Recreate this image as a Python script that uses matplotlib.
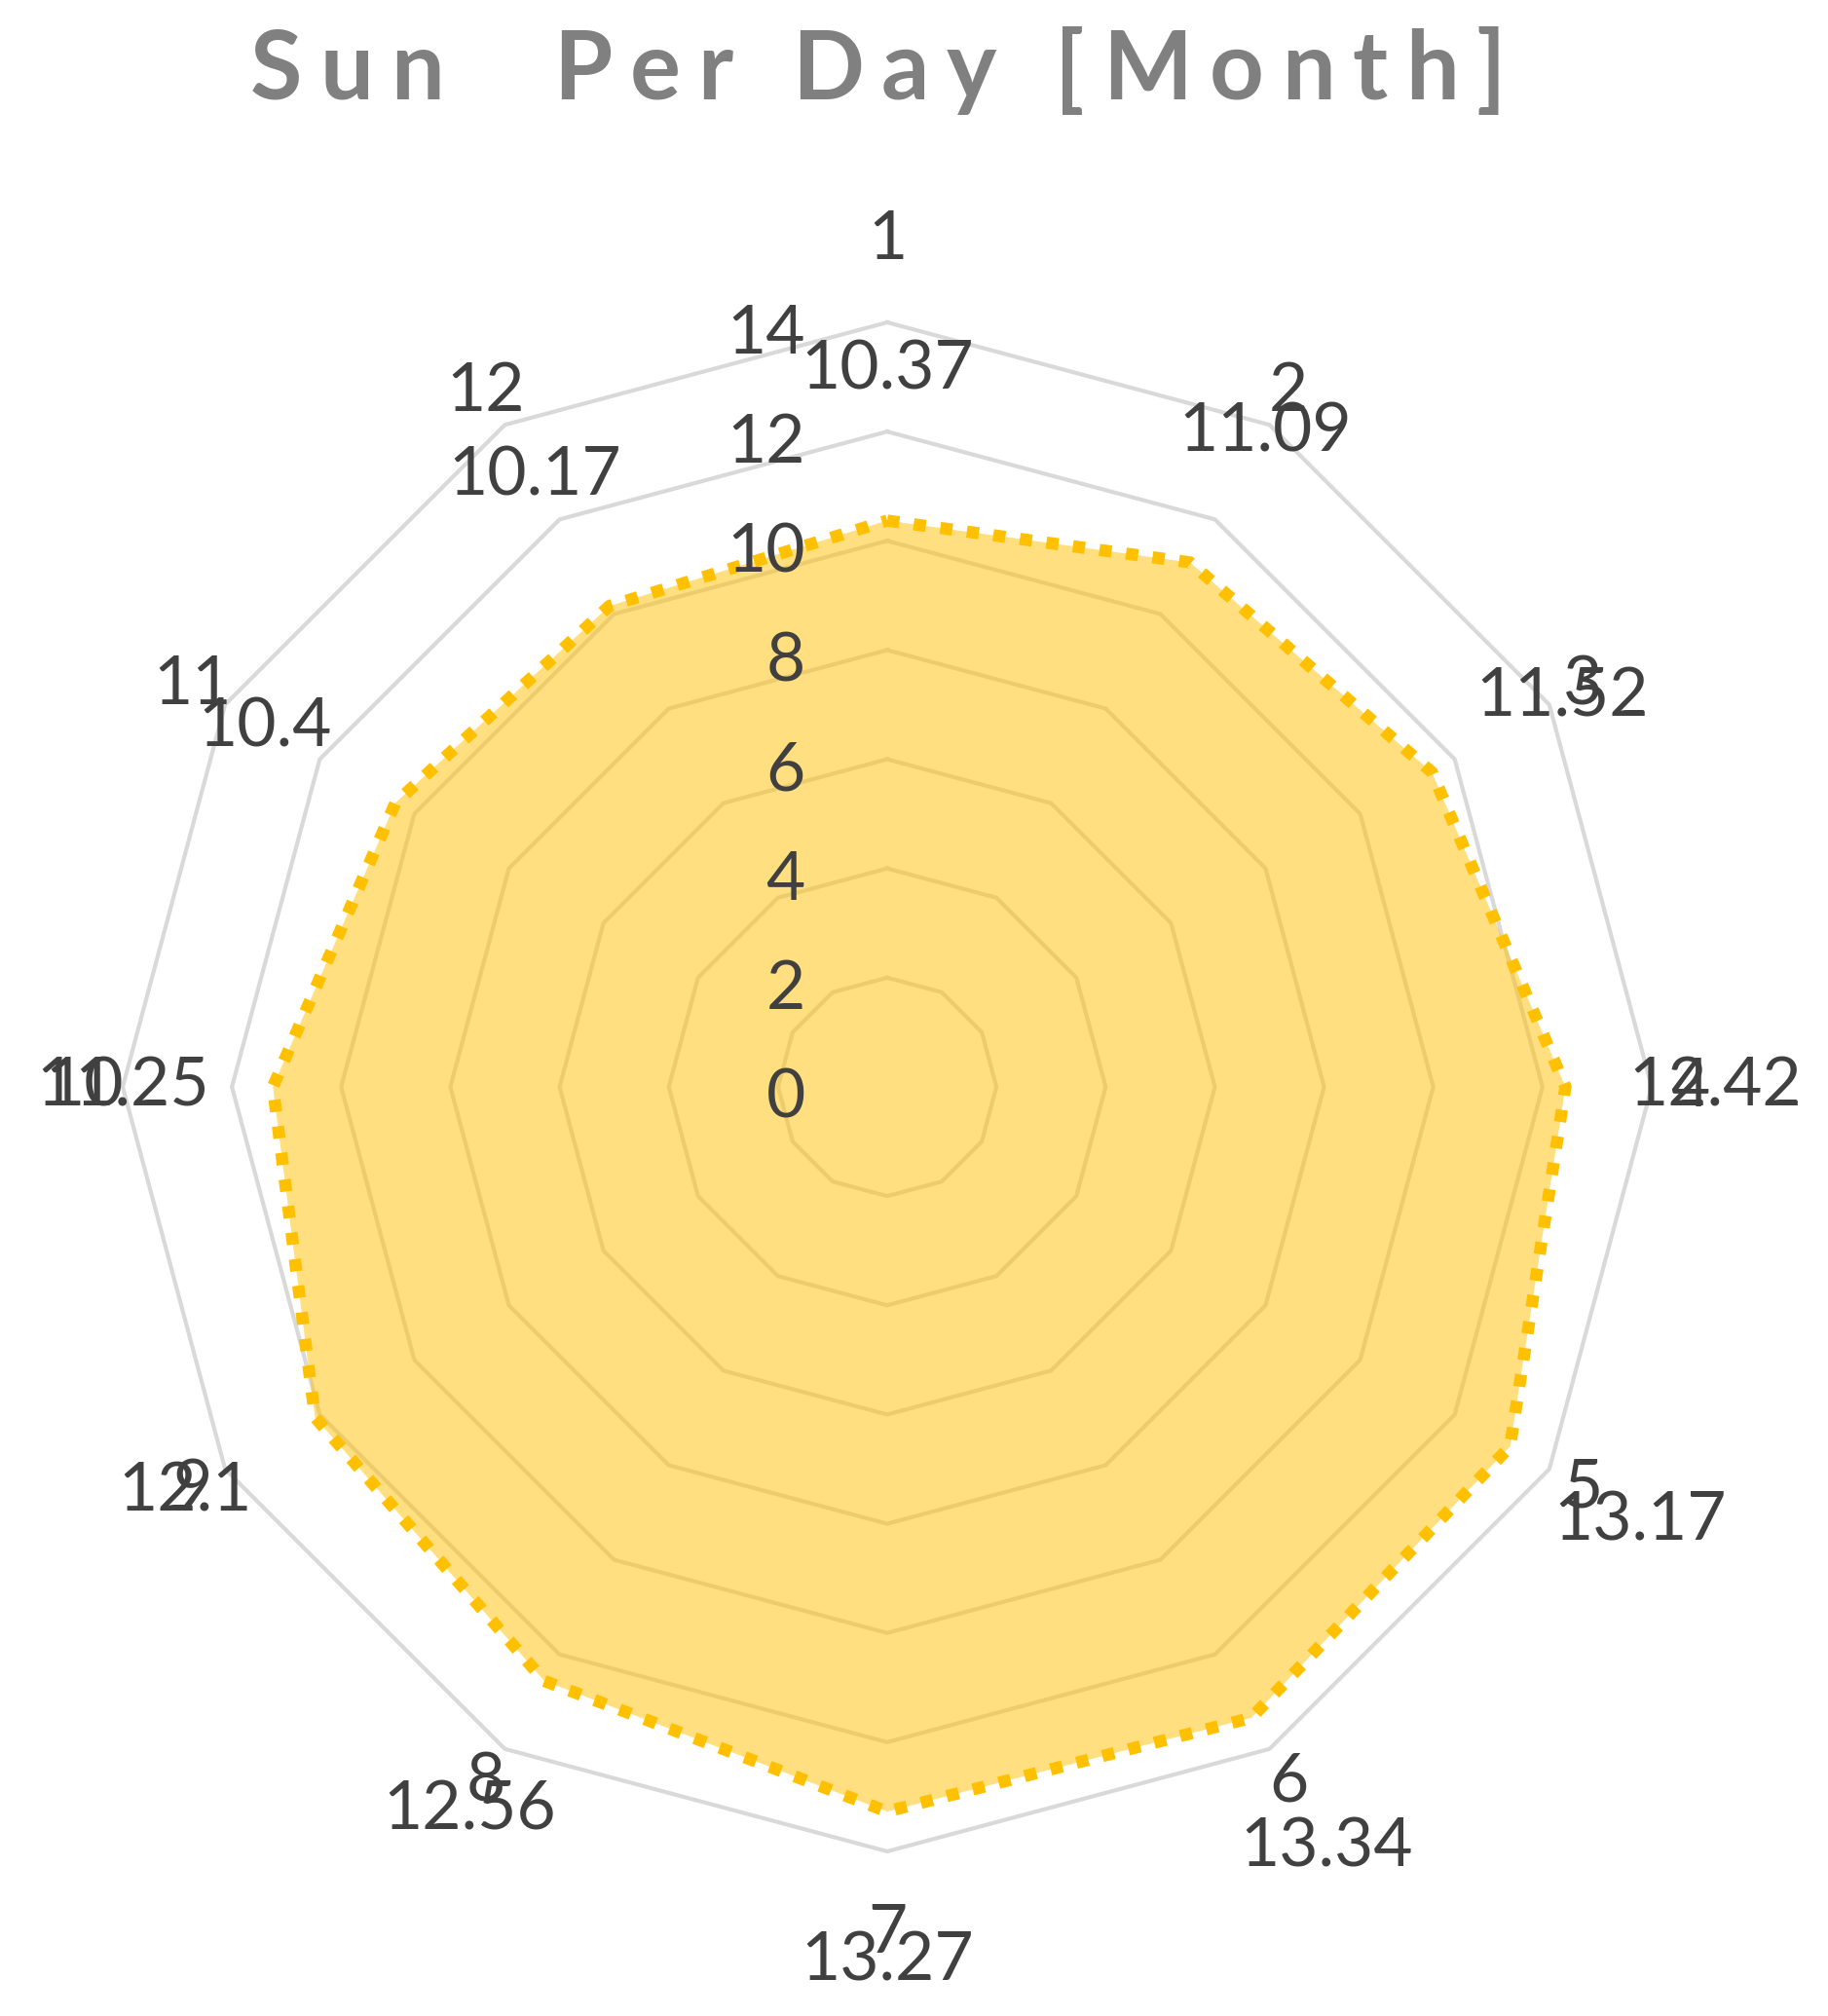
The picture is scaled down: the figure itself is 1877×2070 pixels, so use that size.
import matplotlib.pyplot as plt
import numpy as np

months = ['1', '2', '3', '4', '5', '6', '7', '8', '9', '10', '11', '12']
sun_hours = [10.37, 11.09, 11.52, 12.42, 13.17, 13.34, 13.27, 12.56, 12.1, 11.25, 10.4, 10.17]
ring_ticks = [0, 2, 4, 6, 8, 10, 12, 14]
title_words = ['Sun', 'Per', 'Day', '[Month]']

plt.rcParams['font.family'] = ['Lato', 'DejaVu Sans']

W, H = 1877, 2070
fig = plt.figure(figsize=(W / 100, H / 100), dpi=100)
ax = fig.add_axes([0, 0, 1, 1])
px = 785 / 14          # pixels per unit
cx, cy = 911, 1116     # centre of the radar in pixels
ax.set_xlim(-cx / px, (W - cx) / px)
ax.set_ylim(-(H - cy) / px, cy / px)
ax.axis('off')

n = len(months)
theta = np.arange(n) * 2 * np.pi / n


def polar_xy(r, th):
    return np.asarray(r) * np.sin(th), np.asarray(r) * np.cos(th)


# polygon grid rings
th_closed = np.append(theta, theta[0])
for t in ring_ticks[1:]:
    x, y = polar_xy(np.full(n + 1, t), th_closed)
    ax.plot(x, y, color='#d9d9d9', lw=3, zorder=1)

# data series
vals = np.append(sun_hours, sun_hours[0])
x, y = polar_xy(vals, th_closed)
ax.fill(x, y, color='#ffc000', alpha=0.5, lw=0, zorder=2)
ax.plot(x, y, color='#ffc000', lw=9, linestyle=(0, (1, 1.2)),
        dash_capstyle='butt', zorder=3)

txt = '#404040'
# radial tick labels
for t in ring_ticks:
    ax.text(-1.5, t - 0.22, str(t), ha='right', va='center',
            fontsize=50, color=txt, zorder=5)

# category labels
for i, m in enumerate(months):
    r = 15.5 if i in (0, 6) else 14.7
    lx, ly = polar_xy(r, theta[i])
    ax.text(lx, ly, m, ha='center', va='center', fontsize=50, color=txt, zorder=5)

# data labels
for i, v in enumerate(sun_hours):
    lx, ly = polar_xy(v + 2.75, theta[i])
    ax.text(lx, ly, f'{v:g}', ha='center', va='center', fontsize=50,
            color=txt, zorder=5)

# title with wide letter spacing, laid out glyph by glyph
renderer = fig.canvas.get_renderer()
xpos = 257
track = 18
word_gaps = [112, 60, 60]
for w, word in enumerate(title_words):
    for ch in word:
        t = fig.text(xpos / W, 1 - 73 / H, ch, ha='left', va='center',
                     fontsize=70, fontweight='bold', color='#808080')
        xpos += t.get_window_extent(renderer).width + track
    if w < len(word_gaps):
        xpos += word_gaps[w] - track

plt.savefig('out.png', dpi=100)
